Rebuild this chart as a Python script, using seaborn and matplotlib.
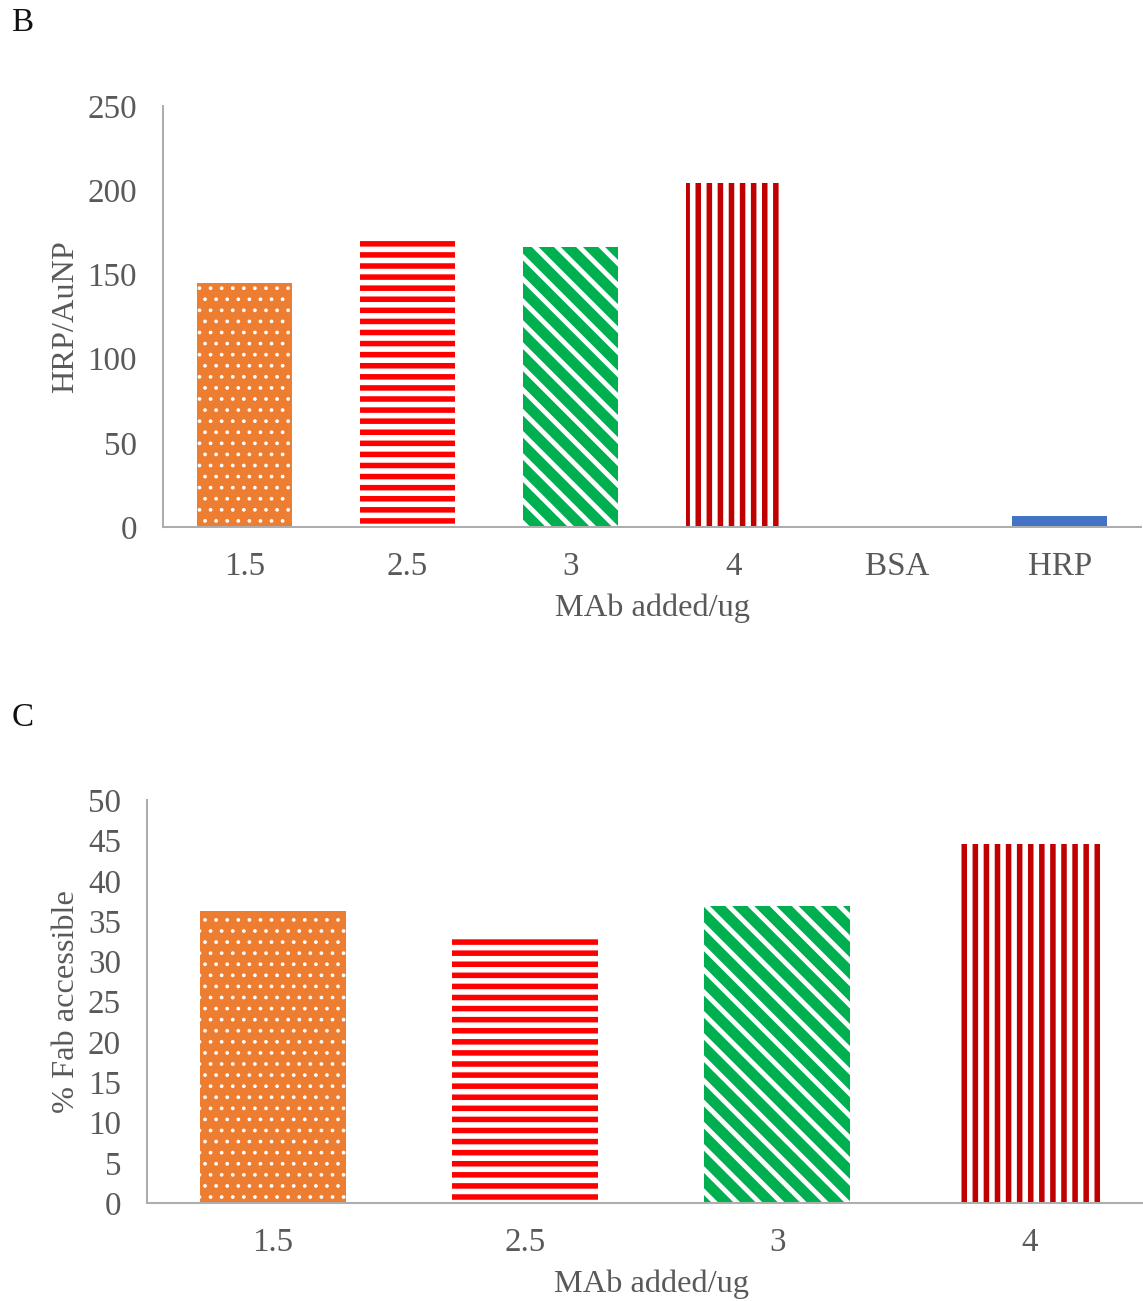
import matplotlib
matplotlib.use("Agg")
import matplotlib.pyplot as plt
import seaborn as sns
import pandas as pd

# --- data -------------------------------------------------------------
panel_b_labels = ["1.5", "2.5", "3", "4", "BSA", "HRP"]
panel_b_values = [145, 170, 166, 204, 0, 6.5]
panel_b_ticks = [0, 50, 100, 150, 200, 250]

panel_c_labels = ["1.5", "2.5", "3", "4"]
panel_c_values = [36.2, 33.1, 36.8, 44.5]
panel_c_ticks = [0, 5, 10, 15, 20, 25, 30, 35, 40, 45, 50]

bar_colors = ["#ED7D31", "#FF0000", "#00B050", "#C00000", "#A5A5A5", "#4472C4"]
bar_hatches = ["..", "--", "\\\\", "||", None, None]
hatch_widths = [0.8, 3.0, 2.6, 3.0, 1.0, 1.0]

# --- style ------------------------------------------------------------
sns.set_theme(style="white")
plt.rcParams["font.family"] = ["Liberation Serif", "DejaVu Serif"]
plt.rcParams["hatch.linewidth"] = 3.0

DPI = 400 / 3
W, H = 1143, 1301
fig = plt.figure(figsize=((W + 0.3) / DPI, (H + 0.3) / DPI), dpi=DPI)

TICK_COLOR = "#595959"
SPINE_COLOR = "#ADADAD"
TICK_SIZE = 17.8
LABEL_SIZE = 17.5


def draw_panel(rect, labels, values, ticks, ylabel):
    ax = fig.add_axes(rect)
    df = pd.DataFrame({"cat": labels, "val": values})
    sns.barplot(data=df, x="cat", y="val", hue="cat",
                palette=bar_colors[:len(labels)], width=0.58,
                legend=False, ax=ax, saturation=1)
    for patch, hatch, hw in zip(ax.patches, bar_hatches, hatch_widths):
        patch.set_linewidth(0)
        if hatch:
            patch.set_edgecolor("white")
            patch.set_hatch(hatch)
            if hasattr(patch, "set_hatch_linewidth"):
                patch.set_hatch_linewidth(hw)
    ax.set_xlim(-0.5, len(labels) - 0.5)
    ax.set_ylim(ticks[0], ticks[-1])
    ax.set_yticks(ticks)
    ax.set_yticklabels([str(t) for t in ticks])
    ax.tick_params(axis="both", length=0, labelsize=TICK_SIZE,
                   labelcolor=TICK_COLOR)
    ax.tick_params(axis="x", pad=13.3)
    ax.tick_params(axis="y", pad=14)
    for side in ("top", "right"):
        ax.spines[side].set_visible(False)
    for side in ("left", "bottom"):
        ax.spines[side].set_color(SPINE_COLOR)
        ax.spines[side].set_linewidth(1.1)
    ax.set_xlabel("MAb added/ug", fontsize=LABEL_SIZE, color=TICK_COLOR,
                  labelpad=6)
    ax.set_ylabel(ylabel, fontsize=LABEL_SIZE, color=TICK_COLOR, labelpad=4)
    return ax


# Panel B: HRP per gold nanoparticle
draw_panel([163 / W, 1 - 527 / H, (1141 - 163) / W, (527 - 106) / H],
           panel_b_labels, panel_b_values, panel_b_ticks, "HRP/AuNP")

# Panel C: accessible Fab fraction
draw_panel([147 / W, 1 - 1203 / H, (1155 - 147) / W, (1203 - 800) / H],
           panel_c_labels, panel_c_values, panel_c_ticks, "% Fab accessible")

fig.text(12 / W, 1 - 23 / H, "B", fontsize=17.8, color="#111111",
         ha="left", va="center")
fig.text(12 / W, 1 - 718 / H, "C", fontsize=17.8, color="#111111",
         ha="left", va="center")

fig.savefig("out.png", dpi=DPI)
